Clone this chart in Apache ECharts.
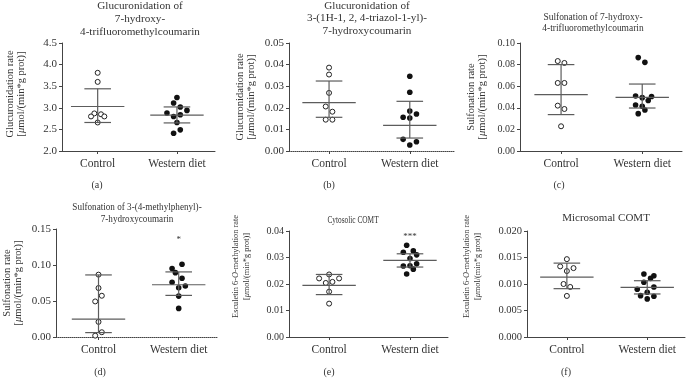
<!DOCTYPE html>
<html><head><meta charset="utf-8">
<script src="https://cdn.jsdelivr.net/npm/echarts@6/dist/echarts.min.js"></script>
<style>html,body{margin:0;padding:0;background:#fff}#c{width:688px;height:378px}</style>
</head><body><div id="c"></div>
<script>
const categories = ['Control', 'Western diet'];

// (a) Glucuronidation of 7-hydroxy-4-trifluoromethylcoumarin
const aControl = [3.81, 3.60, 2.87, 2.85, 2.80, 2.80, 2.66];
const aWestern = [3.24, 3.11, 3.02, 2.94, 2.88, 2.84, 2.80, 2.66, 2.49, 2.41];
const aSummary = [[3.03, 2.66, 3.44], [2.83, 2.65, 3.02]]; // centre, lower, upper
// (b) Glucuronidation of 3-(1H-1,2,4-triazol-1-yl)-7-hydroxycoumarin
const bControl = [0.0386, 0.0354, 0.0269, 0.0206, 0.0182, 0.0145, 0.0145];
const bWestern = [0.0346, 0.0272, 0.0185, 0.0171, 0.0156, 0.0153, 0.0054, 0.0043, 0.0028];
const bSummary = [[0.0224, 0.0156, 0.0324], [0.0119, 0.0060, 0.0230]];
// (c) Sulfonation of 7-hydroxy-4-trifluoromethylcoumarin
const cControl = [0.0833, 0.0815, 0.0630, 0.0630, 0.0420, 0.0389, 0.0229];
const cWestern = [0.0865, 0.0821, 0.0509, 0.0494, 0.0504, 0.0467, 0.0426, 0.0414, 0.0380, 0.0346];
const cSummary = [[0.0522, 0.0337, 0.0800], [0.0497, 0.0398, 0.0620]];
// (d) Sulfonation of 3-(4-methylphenyl)-7-hydroxycoumarin
const dControl = [0.0866, 0.0680, 0.0573, 0.0494, 0.0210, 0.0066, 0.0019];
const dWestern = [0.1011, 0.0950, 0.0894, 0.0816, 0.0760, 0.0708, 0.0685, 0.0568, 0.0397];
const dSummary = [[0.0247, 0.0061, 0.0862], [0.0726, 0.0578, 0.0904]];
// (e) Cytosolic COMT
const eControl = [0.0236, 0.0221, 0.0221, 0.0204, 0.0208, 0.0171, 0.0126];
const eWestern = [0.0346, 0.0320, 0.0325, 0.0310, 0.0296, 0.0276, 0.0268, 0.0269, 0.0256, 0.0238];
const eSummary = [[0.0195, 0.0160, 0.0236], [0.0289, 0.0264, 0.0314]];
// (f) Microsomal COMT
const fControl = [0.01469, 0.01332, 0.01300, 0.01244, 0.01000, 0.00944, 0.00775];
const fWestern = [0.01188, 0.01156, 0.01107, 0.01032, 0.00944, 0.00901, 0.00844, 0.00780, 0.00769, 0.00719];
const fSummary = [[0.01131, 0.00912, 0.01394], [0.00938, 0.00812, 0.01062]];

// horizontal spread of the dots inside a group (in dot-steps)
const aCj = [0, 0, -1, 1, -2, 2, 0];
const aWj = [0, -1, 1, 3, -3, 1, -1, 0, 1, -1];
const bCj = [0, 0, 0, -1, 1, -1, 1];
const bWj = [0, 0, 0, 2, -2, 0, -2, 2, 0];
const cCj = [-1, 1, -1, 1, -1, 1, 0];
const cWj = [-1.2, 0.8, -2, 0, 2.8, 1.8, -2, 0, 0.8, -1.2];
const dCj = [0, 0, 1, -1, 0, 1, -1];
const dWj = [1, -2, -1, 1, -2, 2, 0, 0, 0];
const eCj = [0, -3, 3, -1, 1, 0, 0];
const eWj = [-1, -2, 1, 2, 0, 2, -2, 0, 1, -1];
const fCj = [0, -2, 2, 0, -1, 1, 0];
const fWj = [-1, 2, 1, -1, 2, -3, 0, -2, 2, 0];

const FONT = 'Liberation Serif';
const TXT = '#333';
const AX = '#444';
const LINE = '#5c5c5c';
const MEAN_HALF = 26.7, CAP_HALF = 13.3, STEP_PX = 3.33;

const unitLine = '[{i|\u03bc}mol/(min*g prot)]';
const panels = [
  {ctrl: aControl, west: aWestern, cj: aCj, wj: aWj, sum: aSummary, yMin: 2, yMax: 4.5, yInt: 0.5, dec: 1,
   grid: {left: 62, top: 43, width: 153, height: 108}, xMin: 0.55, xMax: 2.48,
   yName: 'Glucuronidation rate\n' + unitLine, nameSize: 10.5, nameGap: 35, nameShift: 6, tick: 11, dotted: false},
  {ctrl: bControl, west: bWestern, cj: bCj, wj: bWj, sum: bSummary, yMin: 0, yMax: 0.05, yInt: 0.01, dec: 2,
   grid: {left: 289, top: 43, width: 166, height: 108}, xMin: 0.504, xMax: 2.56,
   yName: 'Glucuronidation rate\n' + unitLine, nameSize: 10.5, nameGap: 32, nameShift: 0, tick: 11, dotted: true},
  {ctrl: cControl, west: cWestern, cj: cCj, wj: cWj, sum: cSummary, yMin: 0, yMax: 0.10, yInt: 0.02, dec: 2,
   grid: {left: 520, top: 43, width: 162, height: 108}, xMin: 0.494, xMax: 2.49,
   yName: 'Sulfonation rate\n' + unitLine, nameSize: 10.5, nameGap: 32, nameShift: 0, tick: 10, dotted: false},
  {ctrl: dControl, west: dWestern, cj: dCj, wj: dWj, sum: dSummary, yMin: 0, yMax: 0.15, yInt: 0.05, dec: 2,
   grid: {left: 55, top: 229, width: 163, height: 108}, xMin: 0.47, xMax: 2.49,
   yName: 'Sulfonation rate\n' + unitLine, nameSize: 10.5, nameGap: 32, nameShift: 0, tick: 11, dotted: true},
  {ctrl: eControl, west: eWestern, cj: eCj, wj: eWj, sum: eSummary, yMin: 0, yMax: 0.04, yInt: 0.01, dec: 2,
   grid: {left: 289, top: 231, width: 159, height: 106}, xMin: 0.504, xMax: 2.47,
   yName: 'Esculetin 6-{i|O}-methylation rate\n' + unitLine, nameSize: 8.3, nameGap: 36, nameShift: 35, tick: 10, dotted: false},
  {ctrl: fControl, west: fWestern, cj: fCj, wj: fWj, sum: fSummary, yMin: 0, yMax: 0.020, yInt: 0.005, dec: 3,
   grid: {left: 527, top: 231, width: 158, height: 106}, xMin: 0.504, xMax: 2.47,
   yName: 'Esculetin 6-{i|O}-methylation rate\n' + unitLine, nameSize: 8.3, nameGap: 43, nameShift: 35, tick: 10.5, dotted: false}
];

const titles = [
  {text: 'Glucuronidation of\n7-hydroxy-\n4-trifluoromethylcoumarin', x: 140, y: -1, size: 11.2, lh: 13.3, sx: 1},
  {text: 'Glucuronidation of\n3-(1H-1, 2, 4-triazol-1-yl)-\n7-hydroxycoumarin', x: 367, y: -0.5, size: 11.2, lh: 12.5, sx: 1},
  {text: 'Sulfonation of 7-hydroxy-\n4-trifluoromethylcoumarin', x: 593, y: 11.5, size: 10.5, lh: 11.3, sx: 0.9},
  {text: 'Sulfonation of 3-(4-methylphenyl)-\n7-hydroxycoumarin', x: 137, y: 201, size: 10.5, lh: 12, sx: 0.87},
  {text: 'Cytosolic COMT', x: 353, y: 213.5, size: 10.5, lh: 13, sx: 0.7},
  {text: 'Microsomal COMT', x: 606, y: 211.5, size: 11, lh: 13, sx: 1}
];
const panelLabels = [
  {text: '(a)', x: 97, y: 185}, {text: '(b)', x: 329, y: 185}, {text: '(c)', x: 559, y: 185},
  {text: '(d)', x: 100, y: 372.5}, {text: '(e)', x: 329, y: 372.5}, {text: '(f)', x: 566, y: 372.5}
];
const significance = [{panel: 3, text: '*', value: 0.135}, {panel: 4, text: '***', value: 0.0378}];

function renderSummary(params, api) {
  const x = api.value(0);
  const pc = api.coord([x, api.value(1)]);
  const pl = api.coord([x, api.value(2)]);
  const ph = api.coord([x, api.value(3)]);
  const st = {stroke: LINE, lineWidth: 1.2};
  return {type: 'group', children: [
    {type: 'line', shape: {x1: pl[0], y1: pl[1], x2: ph[0], y2: ph[1]}, style: st},
    {type: 'line', shape: {x1: pl[0] - CAP_HALF, y1: pl[1], x2: pl[0] + CAP_HALF, y2: pl[1]}, style: st},
    {type: 'line', shape: {x1: ph[0] - CAP_HALF, y1: ph[1], x2: ph[0] + CAP_HALF, y2: ph[1]}, style: st},
    {type: 'line', shape: {x1: pc[0] - MEAN_HALF, y1: pc[1], x2: pc[0] + MEAN_HALF, y2: pc[1]}, style: st}
  ]};
}

const grid = [], xAxis = [], yAxis = [], series = [];
panels.forEach((p, i) => {
  grid.push(Object.assign({containLabel: false}, p.grid));
  const unit = STEP_PX * (p.xMax - p.xMin) / p.grid.width;
  xAxis.push({
    type: 'value', gridIndex: i, min: p.xMin, max: p.xMax,
    axisLine: {show: true, onZero: false, lineStyle: {color: AX, width: 1, type: p.dotted ? 'dotted' : 'solid'}},
    axisTick: {show: true, length: 3, customValues: [1, 2], lineStyle: {color: AX}},
    axisLabel: {customValues: [1, 2], formatter: v => categories[Math.round(v) - 1] || '',
      fontFamily: FONT, fontSize: 11.5, color: TXT, margin: 7},
    splitLine: {show: false}
  });
  yAxis.push({
    type: 'value', gridIndex: i, min: p.yMin, max: p.yMax, interval: p.yInt,
    name: p.yName, nameLocation: 'middle', nameGap: p.nameGap, nameRotate: 90,
    nameTextStyle: {fontFamily: FONT, fontSize: p.nameSize, color: TXT, lineHeight: 11.5,
      padding: [0, 0, 0, p.nameShift], rich: {i: {fontStyle: 'italic', fontFamily: FONT, fontSize: p.nameSize, color: TXT, lineHeight: 11.5}}},
    axisLine: {show: true, lineStyle: {color: AX, width: 1}},
    axisTick: {show: true, length: 3, lineStyle: {color: AX}},
    axisLabel: {formatter: v => v.toFixed(p.dec), fontFamily: FONT, fontSize: p.tick, color: TXT, margin: 5},
    splitLine: {show: false}
  });
  series.push({
    type: 'scatter', xAxisIndex: i, yAxisIndex: i, symbol: 'circle', symbolSize: 5,
    itemStyle: {color: '#fff', borderColor: '#222', borderWidth: 1, opacity: 1},
    data: p.ctrl.map((v, k) => [1 + p.cj[k] * unit, v]), z: 2
  });
  series.push({
    type: 'scatter', xAxisIndex: i, yAxisIndex: i, symbol: 'circle', symbolSize: 5.6,
    itemStyle: {color: '#111', opacity: 1},
    data: p.west.map((v, k) => [2 + p.wj[k] * unit, v]), z: 2
  });
  series.push({
    type: 'custom', xAxisIndex: i, yAxisIndex: i, renderItem: renderSummary, z: 3,
    encode: {x: 0, y: [1, 2, 3]}, silent: true,
    data: p.sum.map((s, k) => [k + 1, s[0], s[1], s[2]])
  });
});

const graphic = [];
titles.forEach(t => graphic.push({type: 'text', x: t.x, y: t.y, scaleX: t.sx,
  style: {text: t.text, fontFamily: FONT, fontSize: t.size, lineHeight: t.lh, fill: TXT, align: 'center', verticalAlign: 'top'}}));
panelLabels.forEach(t => graphic.push({type: 'text', x: t.x, y: t.y,
  style: {text: t.text, fontFamily: FONT, fontSize: 10, fill: TXT, align: 'center', verticalAlign: 'middle'}}));

const chart = echarts.init(document.getElementById('c'), null, {renderer: 'canvas'});
chart.setOption({animation: false, backgroundColor: '#fff', grid, xAxis, yAxis, series, graphic});

const sig = significance.map(s => {
  const pt = chart.convertToPixel({gridIndex: s.panel}, [2, s.value]);
  return {type: 'text', x: pt[0], y: pt[1],
    style: {text: s.text, fontFamily: FONT, fontSize: 9, fill: TXT, align: 'center', verticalAlign: 'middle'}};
});
chart.setOption({graphic: graphic.concat(sig)});
</script></body></html>
